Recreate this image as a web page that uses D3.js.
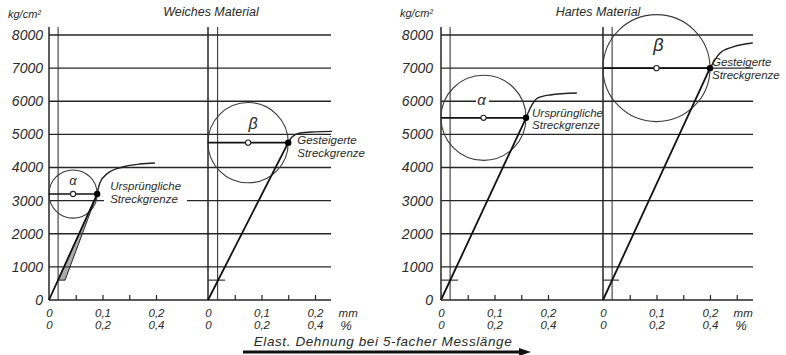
<!DOCTYPE html>
<html>
<head>
<meta charset="utf-8">
<script src="https://cdn.jsdelivr.net/npm/d3@7"></script>
<style>
  body { margin: 0; background: #fff; }
  text { font-family: "Liberation Sans", Arial, sans-serif; font-style: italic; fill: #2a2a2a; }
  .ylab text { font-size: 14px; }
  .xlab text { font-size: 11.5px; }
  .note { font-size: 11.5px; }
  .title { font-size: 12.5px; }
</style>
</head>
<body>
<svg id="chart" width="786" height="355"></svg>
<script>
// ---- data (strain in mm, stress in kg/cm²) ----
const materials = ['Weiches Material', 'Hartes Material'];
const stressTicks = [0, 1000, 2000, 3000, 4000, 5000, 6000, 7000, 8000];
const labelStrains = [0, 0.1, 0.2];
const mmLabels = ['0', '0,1', '0,2'];
const pctLabels = ['0', '0,2', '0,4'];
const tickStrains = [
  [0.05, 0.1, 0.15, 0.2],
  [0.05, 0.1, 0.15, 0.2],
  [0.05, 0.1, 0.15, 0.2],
  [0.05, 0.1, 0.15, 0.2, 0.25]
];
// one entry per sub-diagram: weich α, weich β, hart α, hart β
const yieldStrain = [0.09, 0.15, 0.159, 0.2];
const yieldStress = [3200, 4750, 5500, 7000];
const preloadStress = 600;
const preloadStrain = [0.017, 0.018, 0.017, 0.017];
const preloadMarkEnd = [0.03, 0.032, 0.032, 0.03];
const circleSymbols = ['α', 'β', 'α', 'β'];
const yieldNotes = [
  ['Ursprüngliche', 'Streckgrenze'],
  ['Gesteigerte', 'Streckgrenze'],
  ['Ursprüngliche', 'Streckgrenze'],
  ['Gesteigerte', 'Streckgrenze']
];
const weichAlphaCurve = [[0.09, 3200], [0.095, 3530], [0.11, 3830], [0.138, 4015], [0.17, 4105], [0.198, 4135]];
const weichBetaCurve = [[0.15, 4750], [0.157, 4920], [0.172, 5040], [0.2, 5075], [0.232, 5090]];
const hartAlphaCurve = [[0.159, 5500], [0.17, 5890], [0.181, 6100], [0.204, 6190], [0.254, 6250]];
const hartBetaCurve = [[0.2, 7000], [0.219, 7460], [0.243, 7640], [0.28, 7760]];
const plasticCurves = [weichAlphaCurve, weichBetaCurve, hartAlphaCurve, hartBetaCurve];
const caption = 'Elast. Dehnung bei 5-facher Messlänge';

// ---- layout ----
const svg = d3.select('#chart');
const ink = '#262626';
const y = d3.scaleLinear().domain([0, 8000]).range([300, 35]);
const plotTop = 27;
const matLayout = [
  { left: 49, right: 331, unitX: 8, unitY: 18, titleX: 211, pad: 6, gaps: { 3000: [104, 187] } },
  { left: 441, right: 753, unitX: 400, unitY: 17, titleX: 598, pad: 8, gaps: { 6000: [476, 489] } }
];
const subLayout = [
  { mat: 0, x0: 49, units: false, note: [13, -4, 9], sym: [0, -9], symSize: 13 },
  { mat: 0, x0: 208, units: true, note: [9, 1, 14], sym: [5, -14], symSize: 16 },
  { mat: 1, x0: 441, units: false, note: [6, -1, 11], sym: [-2, -13], symSize: 15 },
  { mat: 1, x0: 603, units: true, note: [2, -2, 11], sym: [2, -17], symSize: 18 }
];

// grid + y axes per material
matLayout.forEach((m, mi) => {
  const g = svg.append('g');
  stressTicks.forEach(s => {
    const gap = m.gaps[s];
    const segs = gap ? [[m.left, gap[0]], [gap[1], m.right]] : [[m.left, m.right]];
    segs.forEach(([a, b]) => g.append('line')
      .attr('x1', a).attr('x2', b).attr('y1', y(s)).attr('y2', y(s))
      .attr('stroke', ink).attr('stroke-width', 1.3));
  });
  const ax = svg.append('g').attr('class', 'ylab')
    .attr('transform', `translate(${m.left},0)`)
    .call(d3.axisLeft(y).tickValues(stressTicks).tickSize(0).tickPadding(m.pad).tickFormat(d3.format('d')));
  ax.select('.domain').remove();
  ax.selectAll('text').attr('fill', null);
  svg.append('text').attr('x', m.unitX).attr('y', m.unitY).style('font-size', '11px').text('kg/cm²');
  svg.append('text').attr('class', 'title').attr('x', m.titleX).attr('y', 16)
    .attr('text-anchor', 'middle').text(materials[mi]);
});

const line = d3.line();
subLayout.forEach((sl, i) => {
  const x = d3.scaleLinear().domain([0, 0.2]).range([sl.x0, sl.x0 + 107]);
  const g = svg.append('g');

  // axis + preload vertical
  g.append('line').attr('x1', x(0)).attr('x2', x(0)).attr('y1', plotTop).attr('y2', y(0))
    .attr('stroke', ink).attr('stroke-width', 1.5);
  g.append('line').attr('x1', x(preloadStrain[i])).attr('x2', x(preloadStrain[i]))
    .attr('y1', plotTop).attr('y2', y(0)).attr('stroke', ink).attr('stroke-width', 1);

  // ticks pointing up
  const tk = g.append('g').attr('transform', `translate(0,${y(0)})`)
    .call(d3.axisTop(x).tickValues(tickStrains[i]).tickSize(5).tickFormat(''));
  tk.select('.domain').remove();
  tk.selectAll('line').attr('stroke', ink).attr('stroke-width', 1.2);

  // strain labels, two rows
  [[mmLabels, 9], [pctLabels, 21]].forEach(([labs, pad]) => {
    const a = g.append('g').attr('class', 'xlab').attr('transform', `translate(0,${y(0)})`)
      .call(d3.axisBottom(x).tickValues(labelStrains).tickSize(0).tickPadding(pad)
        .tickFormat((d, k) => labs[k]));
    a.select('.domain').remove();
    a.selectAll('text').attr('fill', null);
  });
  if (sl.units) {
    g.append('text').attr('x', x(0.262)).attr('y', 317).attr('text-anchor', 'middle')
      .style('font-size', '11.5px').text('mm');
    g.append('text').attr('x', x(0.258)).attr('y', 330).attr('text-anchor', 'middle')
      .style('font-size', '13px').text('%');
  }

  const ys = yieldStrain[i], yv = yieldStress[i];
  const cx = x(ys / 2), r = x(ys) - x(ys / 2);

  // circle through axis and yield point
  g.append('circle').attr('cx', cx).attr('cy', y(yv)).attr('r', r)
    .attr('fill', 'none').attr('stroke', '#3a3a3a').attr('stroke-width', 1.1);

  // preload mark at 600
  const e600 = ys * preloadStress / yv;
  if (i === 0) {
    g.append('path')
      .attr('d', line([[x(e600), y(preloadStress)], [x(preloadMarkEnd[i]), y(preloadStress)], [x(ys), y(yv)]]) + 'Z')
      .attr('fill', '#444').attr('fill-opacity', 0.45).attr('stroke', ink).attr('stroke-width', 1);
  } else {
    g.append('line').attr('x1', x(0)).attr('x2', x(preloadMarkEnd[i]))
      .attr('y1', y(preloadStress)).attr('y2', y(preloadStress))
      .attr('stroke', ink).attr('stroke-width', 1.1);
  }

  // elastic line
  g.append('path').attr('d', line([[x(0), y(0)], [x(ys), y(yv)]]))
    .attr('stroke', '#111').attr('stroke-width', 1.8).attr('fill', 'none');
  // plastic curve
  g.append('path')
    .attr('d', d3.line().x(d => x(d[0])).y(d => y(d[1])).curve(d3.curveMonotoneX)(plasticCurves[i]))
    .attr('stroke', '#222').attr('stroke-width', 1.4).attr('fill', 'none');
  // horizontal from axis to yield point
  g.append('line').attr('x1', x(0)).attr('x2', x(ys)).attr('y1', y(yv)).attr('y2', y(yv))
    .attr('stroke', '#111').attr('stroke-width', 1.7);

  g.append('circle').attr('cx', cx).attr('cy', y(yv)).attr('r', 2.6)
    .attr('fill', '#fff').attr('stroke', ink).attr('stroke-width', 1.1);
  g.append('circle').attr('cx', x(ys)).attr('cy', y(yv)).attr('r', 3.2).attr('fill', '#000');

  g.append('text').attr('x', cx + sl.sym[0]).attr('y', y(yv) + sl.sym[1])
    .attr('text-anchor', 'middle').style('font-size', sl.symSize + 'px').text(circleSymbols[i]);

  yieldNotes[i].forEach((t, k) => g.append('text').attr('class', 'note')
    .attr('x', x(ys) + sl.note[0]).attr('y', y(yv) + sl.note[1 + k]).text(t));
});

// caption with arrow
svg.append('text').attr('x', 383).attr('y', 346).attr('text-anchor', 'middle')
  .style('font-size', '13.5px').style('letter-spacing', '0.6px').text(caption);
svg.append('line').attr('x1', 243).attr('x2', 521).attr('y1', 352).attr('y2', 352)
  .attr('stroke', '#111').attr('stroke-width', 3);
svg.append('path').attr('d', 'M519,348L531,352L519,356Z').attr('fill', '#111');
</script>
</body>
</html>
